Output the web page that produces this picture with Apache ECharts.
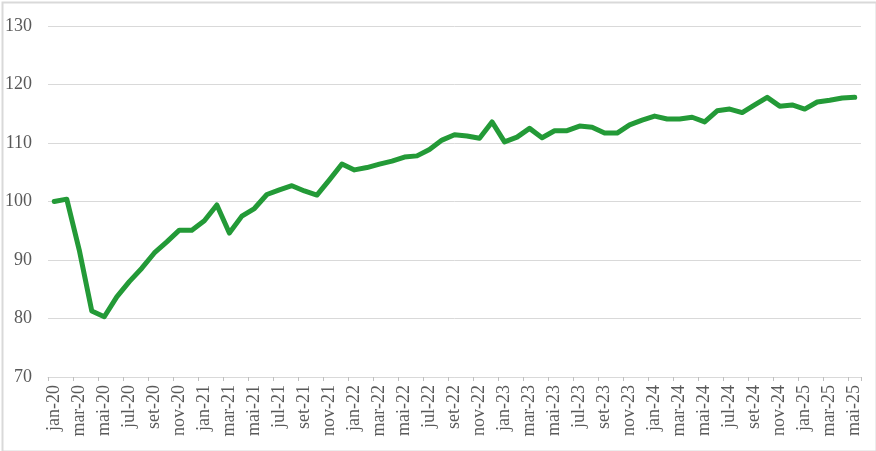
<!DOCTYPE html>
<html>
<head>
<meta charset="utf-8">
<script src="https://cdn.jsdelivr.net/npm/echarts@6/dist/echarts.min.js"></script>
<style>
html,body{margin:0;padding:0;background:#fff;}
#chart{width:876px;height:451px;}
</style>
</head>
<body>
<div id="chart"></div>
<script>
const monthNames = ['jan','fev','mar','abr','mai','jun','jul','ago','set','out','nov','dez'];
const years = ['20','21','22','23','24','25'];
const monthCount = 65;
const categories = [];
for (let i = 0; i < monthCount; i++) {
  categories.push(monthNames[i % 12] + '-' + years[Math.floor(i / 12)]);
}
const values = [
  100.0, 100.4, 91.7, 81.3, 80.3, 83.7, 86.3, 88.6, 91.2, 93.1, 95.1, 95.1,
  96.7, 99.4, 94.6, 97.5, 98.8, 101.2, 102.0, 102.7, 101.8, 101.1, 103.7, 106.4,
  105.4, 105.8, 106.4, 106.9, 107.6, 107.8, 108.9, 110.5, 111.4, 111.2, 110.8, 113.6,
  110.2, 111.0, 112.5, 110.9, 112.1, 112.1, 112.9, 112.7, 111.7, 111.7, 113.1, 113.9,
  114.6, 114.1, 114.1, 114.4, 113.6, 115.5, 115.8, 115.2, 116.5, 117.8, 116.3, 116.5,
  115.8, 117.0, 117.3, 117.7, 117.8
];
const yMin = 70, yMax = 130, yStep = 10;

const chart = echarts.init(document.getElementById('chart'), null, {renderer: 'canvas'});
const fontFamily = '"Liberation Serif", "Times New Roman", serif';
chart.setOption({
  animation: false,
  backgroundColor: '#ffffff',
  grid: {left: 48, right: 15, top: 26, bottom: 74, containLabel: false},
  graphic: [{
    type: 'rect', left: 0, top: 0, silent: true,
    shape: {x: 1, y: 1, width: 874, height: 449},
    style: {fill: 'none', stroke: '#d9d9d9', lineWidth: 2}
  }],
  xAxis: {
    type: 'category',
    data: categories,
    boundaryGap: true,
    axisLine: {show: true, lineStyle: {color: '#d9d9d9', width: 1}},
    axisTick: {show: true, interval: 1, length: 4, lineStyle: {color: '#bfbfbf'}},
    axisLabel: {
      interval: 1, rotate: 90, margin: 8,
      color: '#595959', fontFamily: fontFamily, fontSize: 18
    },
    splitLine: {show: false}
  },
  yAxis: {
    type: 'value',
    min: yMin, max: yMax, interval: yStep,
    axisLine: {show: false},
    axisTick: {show: false},
    axisLabel: {color: '#595959', fontFamily: fontFamily, fontSize: 18, margin: 16},
    splitLine: {show: true, lineStyle: {color: '#d9d9d9', width: 1}}
  },
  series: [{
    type: 'line',
    data: values,
    showSymbol: false,
    symbol: 'none',
    smooth: false,
    lineStyle: {color: '#239a37', width: 5, cap: 'round', join: 'round'},
    itemStyle: {color: '#239a37'}
  }]
});
</script>
</body>
</html>
